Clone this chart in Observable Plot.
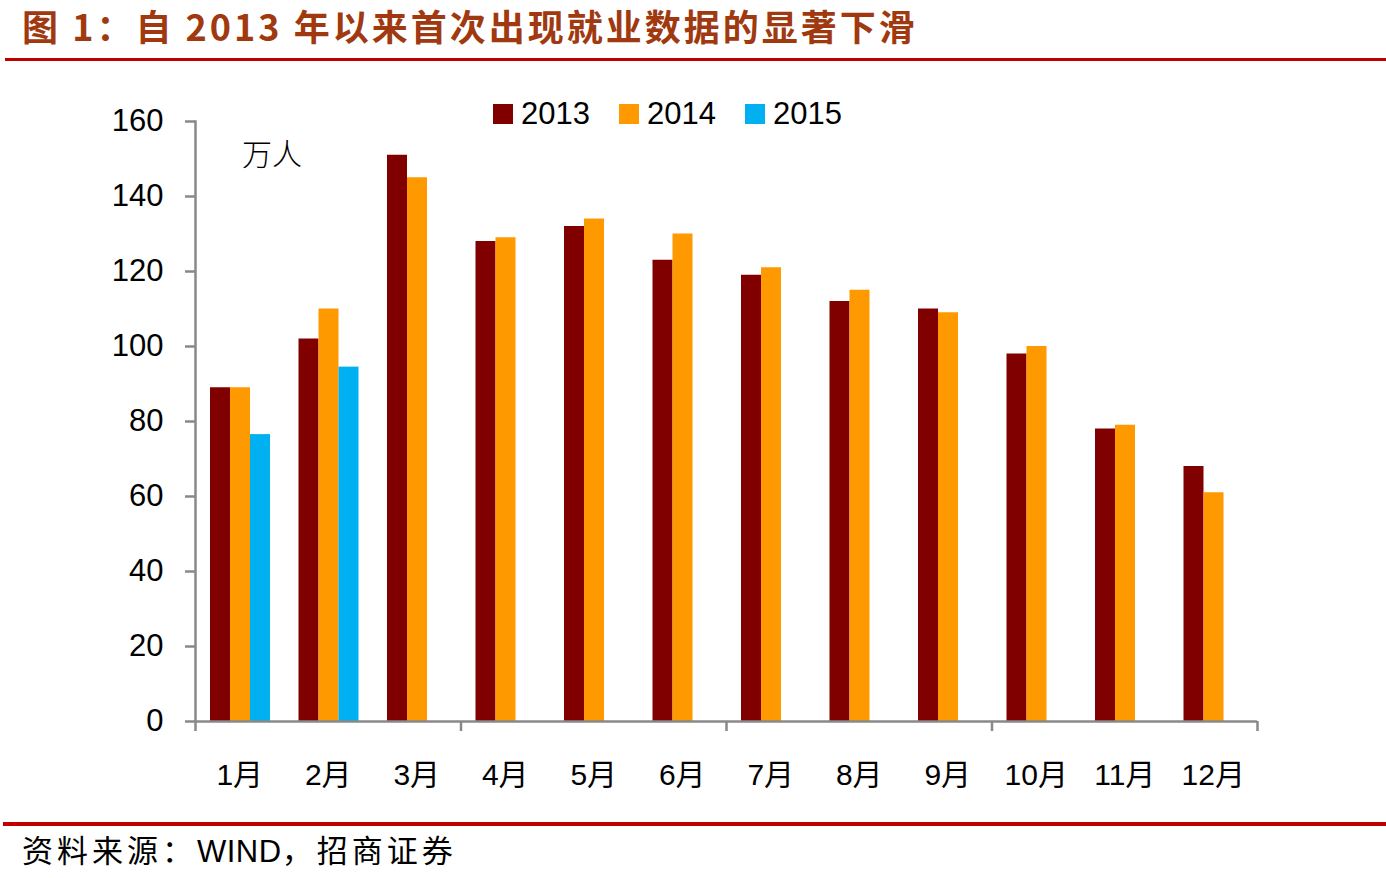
<!DOCTYPE html>
<html>
<head>
<meta charset="utf-8">
<script src="https://cdn.jsdelivr.net/npm/d3@7"></script>
<script src="https://cdn.jsdelivr.net/npm/@observablehq/plot@0.6"></script>
<style>
  html, body { margin: 0; padding: 0; background: #fff; }
  #wrap { position: relative; width: 1386px; height: 878px; overflow: hidden; font-family: "Liberation Sans", "Noto Sans CJK SC", sans-serif; }
  #title { position: absolute; left: 22px; top: 5px; line-height: 40px; font-family: "Noto Sans CJK SC", sans-serif; font-weight: 700; font-size: 36px; color: #a0390f; white-space: nowrap; letter-spacing: 3px; }
  #topline { position: absolute; left: 5px; top: 58px; width: 1381px; height: 3px; background: #c00000; }
  #botline { position: absolute; left: 3px; top: 822px; width: 1383px; height: 4px; background: #c00000; }
  #source { position: absolute; left: 22px; top: 829px; line-height: 40px; font-family: "Noto Sans CJK SC", sans-serif; font-size: 31px; color: #000; white-space: nowrap; letter-spacing: 4px; }
  #source .lat { font-family: "Liberation Sans", sans-serif; letter-spacing: 0.5px; }
  #unit { position: absolute; left: 242px; top: 130px; font-family: "Noto Sans CJK SC", sans-serif; font-weight: 300; font-size: 30px; color: #000; }
  #legend { position: absolute; left: 493px; top: 96px; display: flex; align-items: center; font-family: "Liberation Sans", sans-serif; font-size: 31px; color: #000; }
  #legend .item { display: flex; align-items: center; margin-right: 29px; }
  #legend .sw { width: 20px; height: 20px; margin-right: 8px; }
  #chart { position: absolute; left: 0; top: 70px; }
</style>
</head>
<body>
<div id="wrap">
  <div id="title"></div>
  <div id="topline"></div>
  <div id="chart"></div>
  <div id="unit"></div>
  <div id="legend"></div>
  <div id="botline"></div>
  <div id="source"></div>
</div>
<script>
// ---- data ----
const months = ["1月","2月","3月","4月","5月","6月","7月","8月","9月","10月","11月","12月"];
const years = ["2013", "2014", "2015"];
const v2013 = [89, 102, 151, 128, 132, 123, 119, 112, 110, 98, 78, 68];
const v2014 = [89, 110, 145, 129, 134, 130, 121, 115, 109, 100, 79, 61];
const v2015 = [76.5, 94.5];
const yTicks = [0, 20, 40, 60, 80, 100, 120, 140, 160];
const boundaryMonths = ["1月", "4月", "7月", "10月"];
const endMonths = ["12月"];
const colors = ["#800000", "#ff9900", "#00b0f0"];
const titleText = "图 1：自 2013 年以来首次出现就业数据的显著下滑";
const unitText = "万人";
const sourceText = ["资料来源：", "WIND", "，招商证券"];

// ---- text ----
document.getElementById("title").textContent = titleText;
document.getElementById("unit").textContent = unitText;
const src = document.getElementById("source");
src.innerHTML = "";
src.append(sourceText[0]);
const lat = document.createElement("span"); lat.className = "lat"; lat.textContent = sourceText[1]; src.append(lat);
src.append(sourceText[2]);

const leg = document.getElementById("legend");
years.forEach((y, i) => {
  const it = document.createElement("div"); it.className = "item";
  const sw = document.createElement("div"); sw.className = "sw"; sw.style.background = colors[i];
  const t = document.createElement("span"); t.textContent = y;
  it.append(sw, t); leg.append(it);
});

// ---- chart ----
const toRows = (vals, year) => vals.map((v, i) => ({month: months[i], year, value: v}));
const d13 = toRows(v2013, "2013"), d14 = toRows(v2014, "2014"), d15 = toRows(v2015, "2015");

const W = 1386, mL = 195, mR = 129, mT = 51, mB = 90, H = 741;
const band = (W - mL - mR) / months.length;
const barW = 20;
const inset = (band - barW) / 2;
const axisGray = "#898989";

const chart = Plot.plot({
  width: W, height: H,
  marginLeft: mL, marginRight: mR, marginTop: mT, marginBottom: mB,
  style: {fontFamily: "'Liberation Sans', 'Noto Sans CJK SC', sans-serif", background: "transparent"},
  x: {domain: months, paddingInner: 0, paddingOuter: 0, round: false, label: null},
  y: {domain: [0, 160], ticks: yTicks, label: null},
  marks: [
    Plot.barY(d13, {x: "month", y: "value", fill: colors[0], insetLeft: inset, insetRight: inset, dx: -barW + 0.75}),
    Plot.barY(d14, {x: "month", y: "value", fill: colors[1], insetLeft: inset, insetRight: inset, dx: 0.75}),
    Plot.barY(d15, {x: "month", y: "value", fill: colors[2], insetLeft: inset, insetRight: inset, dx: barW + 0.75}),
    Plot.ruleY([0], {stroke: axisGray, strokeWidth: 2.5}),
    Plot.frame({anchor: "left", stroke: axisGray, strokeWidth: 2.5}),
    Plot.ruleX(boundaryMonths, {x: d => d, y1: 0, y2: 0, insetBottom: -10, dx: -band / 2, stroke: axisGray, strokeWidth: 2.5}),
    Plot.ruleX(endMonths, {x: d => d, y1: 0, y2: 0, insetBottom: -10, dx: band / 2, stroke: axisGray, strokeWidth: 2.5}),
    Plot.axisY({ticks: yTicks, tickSize: 10, tickPadding: 22, fontSize: 31, stroke: axisGray, strokeWidth: 2.5, color: "#000", tickFormat: d => String(d)}),
    Plot.axisX({tickSize: 0, tickPadding: 42, fontSize: 30, color: "#000"})
  ]
});
chart.querySelectorAll("g[aria-label='y-axis tick'] path, g[aria-label='y-axis tick'] line").forEach(p => { p.setAttribute("stroke", axisGray); p.setAttribute("stroke-width", "2.5"); });
chart.querySelectorAll("text").forEach(t => t.setAttribute("fill", "#000"));
document.getElementById("chart").append(chart);
</script>
</body>
</html>
